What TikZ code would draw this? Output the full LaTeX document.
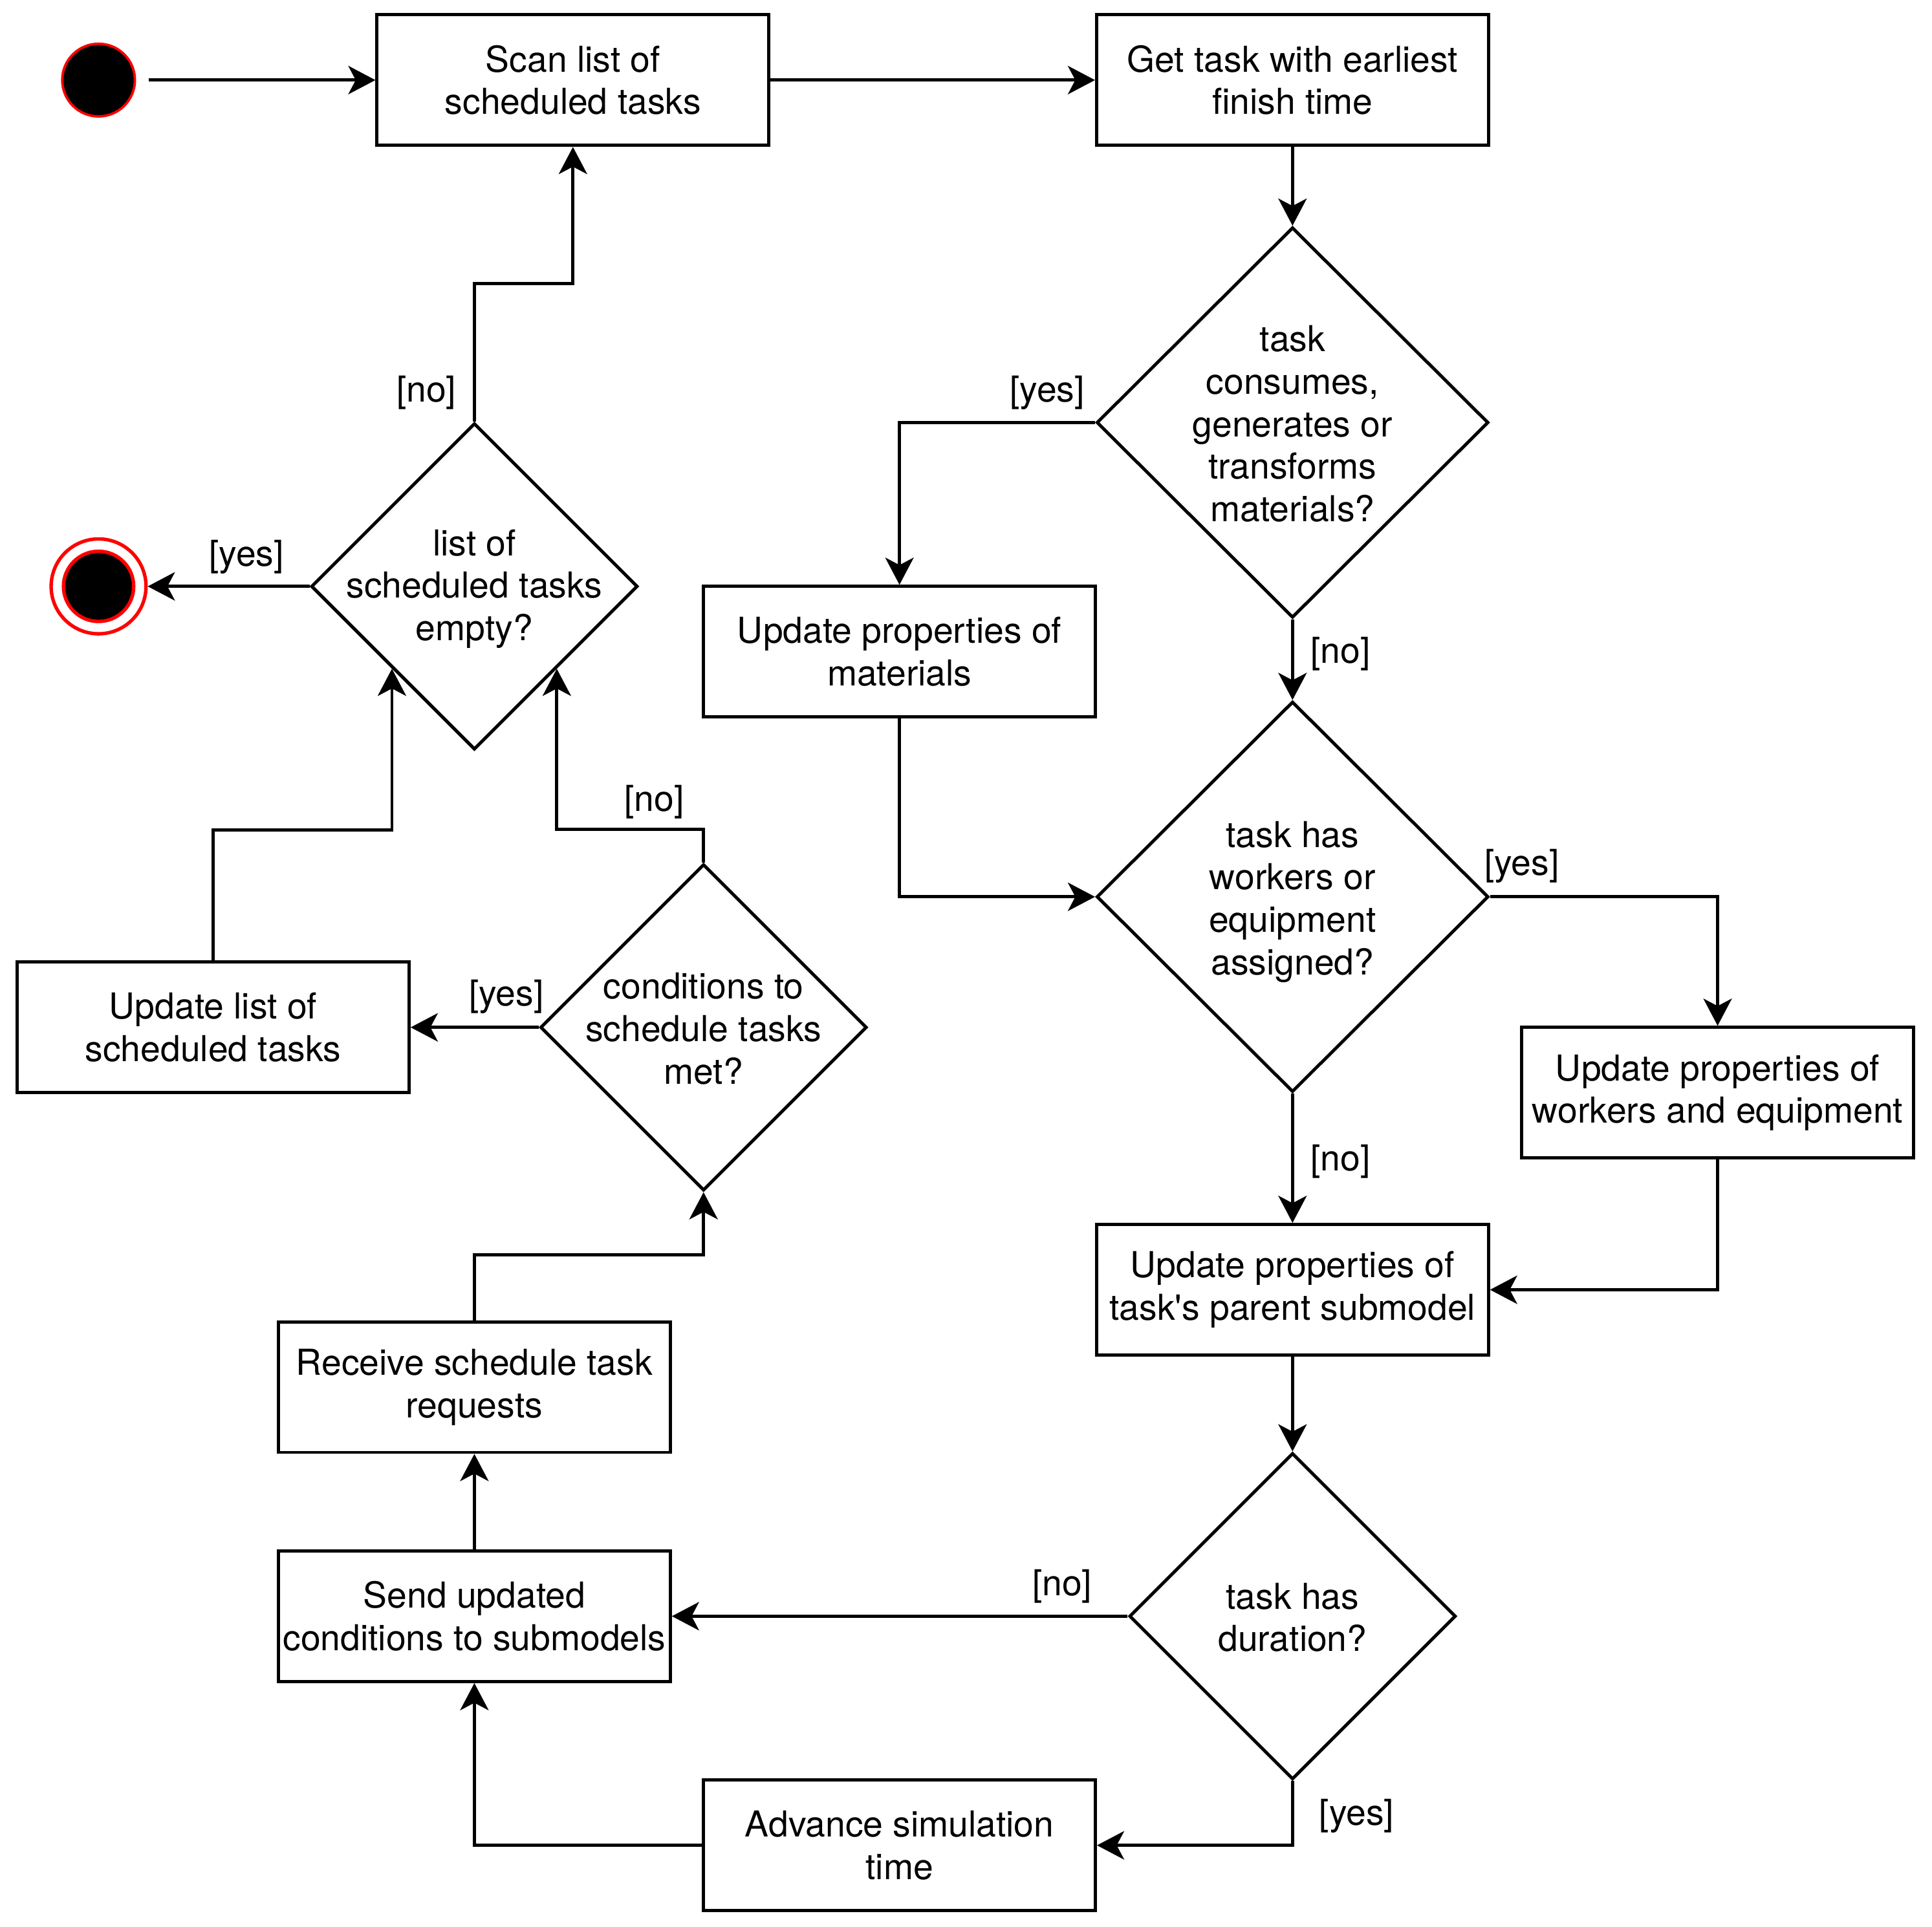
\documentclass[tikz,border=0pt]{standalone}
\usepackage{fontspec}
\setmainfont{TeX Gyre Heros}
\usetikzlibrary{shapes.geometric,arrows.meta,calc}
\begin{document}
\begin{tikzpicture}[x=0.5pt,y=-0.5pt,
  every node/.style={font=\fontsize{14.5pt}{17.25pt}\selectfont},
  box/.style={draw, line width=1.3pt, minimum width=159pt, minimum height=53pt, align=center, inner sep=0pt},
  dia/.style={draw, diamond, line width=1.3pt, inner sep=0pt, aspect=1},
  bigdia/.style={dia, minimum width=159pt, minimum height=158.5pt},
  smalldia/.style={dia, minimum width=132.5pt, minimum height=132.5pt},
  dtext/.style={align=center, inner sep=0pt},
  arr/.style={line width=1.3pt, -{Stealth[length=11pt,width=11.5pt,inset=3pt]}},
  lbl/.style={inner sep=0pt},
]
\useasboundingbox (0,0) rectangle (1568,1564);

% start and end
\node[circle, fill=black, draw=red, line width=1pt, minimum size=29.5pt, inner sep=0pt] (start) at (80,65) {};
\node[circle, fill=white, draw=red, line width=1.4pt, minimum size=38.5pt, inner sep=0pt] (endo) at (80,476) {};
\node[circle, fill=black, draw=red, line width=1.4pt, minimum size=28.5pt, inner sep=0pt] (endi) at (80,476) {};

% boxes
\node[box] (scan) at (465,65) {Scan list of\\scheduled tasks};
\node[box] (get) at (1049,65) {Get task with earliest\\finish time};
\node[box] (mat) at (730,529) {Update properties of\\materials};
\node[box] (wk) at (1394,887) {Update properties of\\workers and equipment};
\node[box] (par) at (1049,1047) {Update properties of\\task\textquotesingle s parent submodel};
\node[box] (adv) at (730,1498) {Advance simulation\\time};
\node[box] (send) at (385,1312) {Send updated\\conditions to submodels};
\node[box] (recv) at (385,1126) {Receive schedule task\\requests};
\node[box] (ul) at (173,834) {Update list of\\scheduled tasks};

% decisions
\node[bigdia] (d1) at (1049,343) {};
\node[dtext] (d1t) at (1049,344) {task\\consumes,\\generates or\\transforms\\materials?};
\node[bigdia] (d2) at (1049,728) {};
\node[dtext] (d2t) at (1049,732) {task has\\workers or\\equipment\\assigned?};
\node[smalldia] (d3) at (1049,1312) {};
\node[dtext] (d3t) at (1049,1313) {task has\\duration?};
\node[smalldia] (d4) at (571,834) {};
\node[dtext] (d4t) at (571,835) {conditions to\\schedule tasks\\met?};
\node[smalldia] (d5) at (385,476) {};
\node[dtext] (d5t) at (385,478) {list of\\scheduled tasks\\empty?};

\coordinate (d5sw) at ($(d5.west)!0.5!(d5.south)$);
\coordinate (d5se) at ($(d5.east)!0.5!(d5.south)$);

% connectors
\draw[arr, shorten <=5pt] (start) -- (scan.west);
\draw[arr] (scan.east) -- (get.west);
\draw[arr] (get.south) -- (d1.north);
\draw[arr] (d1.west) -| (mat.north);
\draw[arr] (d1.south) -- (d2.north);
\draw[arr] (mat.south) |- (d2.west);
\draw[arr] (d2.east) -| (wk.north);
\draw[arr] (d2.south) -- (par.north);
\draw[arr] (wk.south) |- (par.east);
\draw[arr] (par.south) -- (d3.north);
\draw[arr] (d3.west) -- (send.east);
\draw[arr] (d3.south) |- (adv.east);
\draw[arr] (adv.west) -| (send.south);
\draw[arr] (send.north) -- (recv.south);
\draw[arr] (recv.north) -- ++(0,-53) -| (d4.south);
\draw[arr] (d4.west) -- (ul.east);
\draw[arr] (d4.north) -- ++(0,-27) -| (d5se);
\draw[arr] (ul.north) -- ++(0,-106) -| (d5sw);
\draw[arr] (d5.west) -- (endo.east);
\draw[arr] (d5.north) -- ++(0,-112) -| (scan.south);

% labels
\node[lbl] (l1) at (850,319) {[yes]};
\node[lbl] (l2) at (1088,531) {[no]};
\node[lbl] (l3) at (1235,703) {[yes]};
\node[lbl] (l4) at (1088,943) {[no]};
\node[lbl] (l5) at (862,1288) {[no]};
\node[lbl] (l6) at (1101,1474) {[yes]};
\node[lbl] (l7) at (411,809) {[yes]};
\node[lbl] (l8) at (531,651) {[no]};
\node[lbl] (l9) at (200,452) {[yes]};
\node[lbl] (l10) at (346,319) {[no]};
\end{tikzpicture}
\end{document}
